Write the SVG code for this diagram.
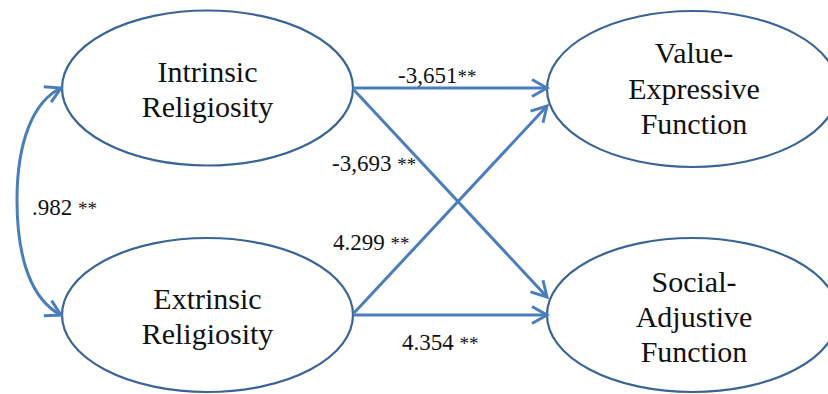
<svg xmlns="http://www.w3.org/2000/svg" width="828" height="394" viewBox="0 0 828 394">
<style>
text{font-family:"Liberation Serif","Times New Roman",serif;fill:#111}
.node ellipse{fill:#fff;stroke:#3b6496;stroke-width:2.2}
.node text{font-size:30px;text-anchor:middle}
.conn path{fill:none;stroke:#4a7ebb;stroke-width:3}
.lbl{font-size:23px}
.ast{font-size:19px}
</style>
<defs>
<marker id="ah" viewBox="0 0 20 20" refX="17" refY="10" markerWidth="20" markerHeight="20" markerUnits="userSpaceOnUse" orient="auto-start-reverse">
<path d="M2,1.5 L17,10 L2,18.5" fill="none" stroke="#4a7ebb" stroke-width="3"/>
</marker>
</defs>
<rect width="828" height="394" fill="#fff"/>
<g id="intrinsic" class="node">
<ellipse cx="207.5" cy="88" rx="145.5" ry="77.5"/>
<text x="207.5" y="82">Intrinsic</text>
<text x="207.5" y="117">Religiosity</text>
</g>
<g id="extrinsic" class="node">
<ellipse cx="207.5" cy="315" rx="145.5" ry="77"/>
<text x="207.5" y="309">Extrinsic</text>
<text x="207.5" y="344">Religiosity</text>
</g>
<g id="value-expressive" class="node">
<ellipse cx="692.5" cy="89" rx="145.5" ry="78"/>
<text x="694" y="63">Value-</text>
<text x="694" y="99">Expressive</text>
<text x="694" y="134">Function</text>
</g>
<g id="social-adjustive" class="node">
<ellipse cx="692.5" cy="315" rx="145.5" ry="77"/>
<text x="694" y="292">Social-</text>
<text x="694" y="327">Adjustive</text>
<text x="694" y="362">Function</text>
</g>
<g id="connectors" class="conn">
<path d="M61,88 C34,101 17,140 17,200 C17,260 32,300 61,315" marker-start="url(#ah)" marker-end="url(#ah)"/>
<path d="M353,88 L547,88" marker-end="url(#ah)"/>
<path d="M354,90 L547,297" marker-end="url(#ah)"/>
<path d="M354,313 L547,106" marker-end="url(#ah)"/>
<path d="M353,315 L547,315" marker-end="url(#ah)"/>
</g>
<g id="labels">
<text class="lbl" x="398" y="83">-3,651<tspan class="ast">**</tspan></text>
<text class="lbl" x="332" y="171">-3,693 <tspan class="ast">**</tspan></text>
<text class="lbl" x="32" y="215">.982 <tspan class="ast">**</tspan></text>
<text class="lbl" x="333" y="250">4.299 <tspan class="ast">**</tspan></text>
<text class="lbl" x="402" y="350">4.354 <tspan class="ast">**</tspan></text>
</g>
</svg>
